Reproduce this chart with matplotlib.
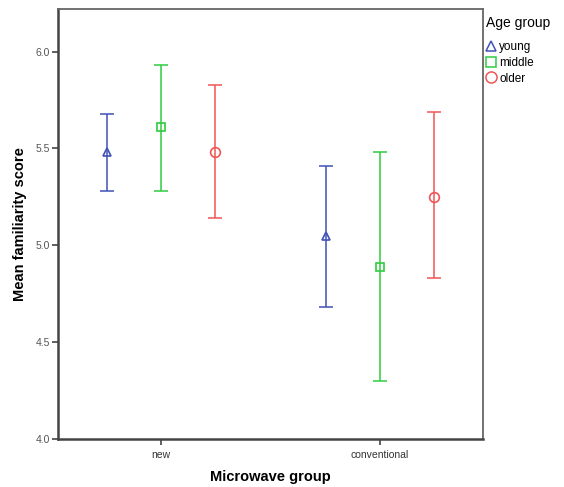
import matplotlib
matplotlib.use("Agg")
import matplotlib.pyplot as plt
import numpy as np
from matplotlib.lines import Line2D

plt.rcParams['font.family'] = ['Liberation Sans', 'DejaVu Sans']

categories = ["new", "conventional"]
groups = ["young", "middle", "older"]
means = {
    "young":  [5.48, 5.05],
    "middle": [5.61, 4.89],
    "older":  [5.48, 5.25],
}
upper = {
    "young":  [5.68, 5.41],
    "middle": [5.93, 5.48],
    "older":  [5.83, 5.69],
}
lower = {
    "young":  [5.28, 4.68],
    "middle": [5.28, 4.30],
    "older":  [5.14, 4.83],
}
yticks = [4.0, 4.5, 5.0, 5.5, 6.0]

colors = {"young": "#3F51B5", "middle": "#2ECC40", "older": "#F05555"}
markers = {"young": "^", "middle": "s", "older": "o"}
msizes = {"young": 5.5, "middle": 6, "older": 7}
offsets = {"young": -0.247, "middle": 0.0, "older": 0.247}

fig = plt.figure(figsize=(5.64, 4.87), dpi=100)
ax = fig.add_axes([58/564, 48/487, (483-58)/564, (439-9)/487])

x = np.arange(len(categories))
for g in groups:
    m = np.array(means[g]); u = np.array(upper[g]); l = np.array(lower[g])
    ax.errorbar(x + offsets[g], m, yerr=[m - l, u - m], fmt='none',
                ecolor=colors[g], elinewidth=1.1, capsize=4.7, capthick=1.1)
    ax.plot(x + offsets[g], m, linestyle='none', marker=markers[g],
            markersize=msizes[g], markerfacecolor='none',
            markeredgecolor=colors[g], markeredgewidth=1.2)

ax.set_xlim(-0.47, 1.47)
ax.set_ylim(4.0, 6.22)
ax.set_xticks(x)
ax.set_xticklabels(categories, fontsize=7.5, color='#333333')
ax.set_yticks(yticks)
ax.set_yticklabels([f"{v:.1f}" for v in yticks], fontsize=7.5, color='#555555')
ax.tick_params(axis='both', length=4, width=1.2, color='#444444', direction='out')
ax.tick_params(axis='x', pad=4)
ax.tick_params(axis='y', pad=2)
for s in ax.spines.values():
    s.set_color('#666666')
    s.set_linewidth(1.3)
ax.spines['left'].set_color('#444444')
ax.spines['bottom'].set_color('#444444')
ax.spines['left'].set_linewidth(1.8)
ax.spines['bottom'].set_linewidth(1.8)

ax.set_xlabel("Microwave group", fontsize=10.5, fontweight='bold', labelpad=7)
ax.set_ylabel("Mean familiarity score", fontsize=10.5, fontweight='bold', labelpad=6)

handles = [Line2D([], [], linestyle='none', marker=markers[g], markersize=msizes[g]+1,
                  markerfacecolor='none', markeredgecolor=colors[g], markeredgewidth=1.1)
           for g in groups]
leg = fig.legend(handles, groups, loc='upper left', bbox_to_anchor=(484/564, 1 - 14/487),
                 frameon=False, title="Age group", title_fontsize=10, fontsize=8.5,
                 handlelength=0.8, handletextpad=0.3, labelspacing=0.3,
                 borderpad=0.2, borderaxespad=0)
leg._legend_box.align = "left"
leg._legend_box.sep = 8

fig.savefig("out.png", dpi=100)
